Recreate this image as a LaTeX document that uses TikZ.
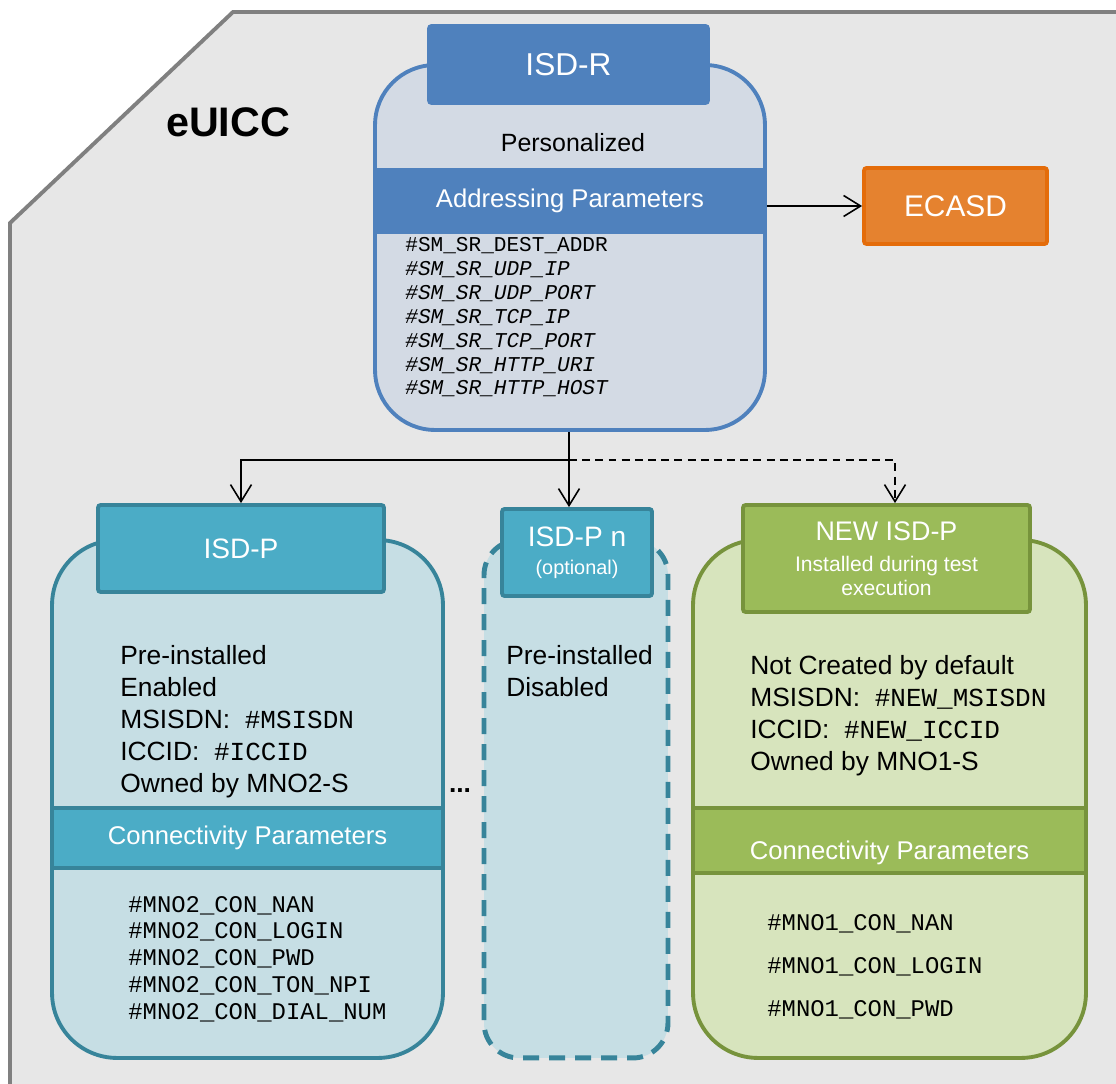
\documentclass[tikz,border=0pt]{standalone}
\usepackage{fontspec}
\setmainfont{Liberation Sans}
\setmonofont{Liberation Mono}
\usetikzlibrary{arrows.meta}

\definecolor{euiccfill}{HTML}{E7E7E7}
\definecolor{euiccline}{HTML}{808080}
\definecolor{rblue}{HTML}{4F81BD}
\definecolor{rfill}{HTML}{D3DAE4}
\definecolor{pteal}{HTML}{4BACC6}
\definecolor{pline}{HTML}{37849A}
\definecolor{pfill}{HTML}{C6DEE4}
\definecolor{ngreen}{HTML}{9BBB59}
\definecolor{nline}{HTML}{77933C}
\definecolor{nfill}{HTML}{D7E4BD}
\definecolor{eorange}{HTML}{E5822F}
\definecolor{eline}{HTML}{E46C0A}

\newcommand{\monotext}[1]{{\fontsize{14.8}{18}\selectfont\ttfamily #1}}

\begin{document}
\begin{tikzpicture}[x=0.02cm, y=-0.02cm,
  bigbox/.style={draw, line width=2.2pt, inner sep=0pt},
  headbox/.style={draw, line width=2.2pt, rounded corners=1.5pt, text=white, align=center, inner sep=0pt},
  band/.style={draw, line width=2.2pt, text=white, inner sep=0pt, font=\fontsize{14.6}{17}\selectfont},
  info/.style={anchor=base west, align=left, inner sep=0pt, font=\fontsize{15}{18.1}\selectfont},
  param/.style={anchor=base west, align=left, inner sep=0pt},
  conn/.style={line width=0.9pt, -{Straight Barb[length=3.4mm, width=4.2mm]}}]
\path[use as bounding box, fill=white] (0,0) rectangle (1116,1084);
% card
\draw[euiccline, fill=euiccfill, line width=2.2pt] (10,1100) -- (10,223) -- (233,12) -- (1130,12) -- (1130,1100) -- cycle;
\node[font=\fontsize{23.5}{28}\selectfont\bfseries] (euicc) at (228,122) {eUICC};

% nodes (text blocks sit on the baseline of their last line)
\node[bigbox, draw=rblue, fill=rfill, rounded corners=1.2cm, minimum width=7.8cm, minimum height=7.3cm] (isdr) at (570,247.5) {};
    \node[band, draw=rblue, fill=rblue, minimum width=7.8cm, minimum height=1.24cm] (addr) at (570,201) {Addressing Parameters};
    \node[headbox, draw=rblue, fill=rblue, minimum width=5.58cm, minimum height=1.54cm, font=\fontsize{18}{20}\selectfont] (isdrhead) at (568.5,64.5) {ISD-R};
    \node[font=\fontsize{14.2}{17}\selectfont] (perso) at (573,143) {Personalized};
    \node[param, font=\fontsize{12}{13.6}\selectfont\ttfamily] (isdrparams) at (405,395) {\#SM\_SR\_DEST\_ADDR\\
      \itshape\#SM\_SR\_UDP\_IP\\\itshape\#SM\_SR\_UDP\_PORT\\\itshape\#SM\_SR\_TCP\_IP\\
      \itshape\#SM\_SR\_TCP\_PORT\\\itshape\#SM\_SR\_HTTP\_URI\\\itshape\#SM\_SR\_HTTP\_HOST};
\node[headbox, draw=eline, fill=eorange, minimum width=3.66cm, minimum height=1.52cm, font=\fontsize{17}{20}\selectfont] (ecasd) at (955.5,206) {ECASD};

\node[bigbox, draw=pline, fill=pfill, rounded corners=1.3cm, minimum width=7.82cm, minimum height=10.36cm] (isdp) at (247.5,799) {};
    \node[band, draw=pline, fill=pteal, minimum width=7.82cm, minimum height=1.2cm] (pconn) at (247.5,838) {Connectivity Parameters};
    \node[headbox, draw=pline, fill=pteal, minimum width=5.72cm, minimum height=1.74cm, font=\fontsize{16}{19}\selectfont] (isdphead) at (241,548.5) {ISD-P};
    \node[info] (pinfo) at (120,792) {Pre-installed\\Enabled\\MSISDN:~~\monotext{\#MSISDN}\\ICCID:~~\monotext{\#ICCID}\\Owned by MNO2-S};
    \node[param, font=\fontsize{13.6}{15.2}\selectfont\ttfamily] (pparams) at (128,1019) {\#MNO2\_CON\_NAN\\\#MNO2\_CON\_LOGIN\\\#MNO2\_CON\_PWD\\\#MNO2\_CON\_TON\_NPI\\\#MNO2\_CON\_DIAL\_NUM};

\node[bigbox, draw=pline, fill=pfill, line width=2.8pt, dash pattern=on 0.32cm off 0.2cm, rounded corners=0.7cm, minimum width=3.68cm, minimum height=10.36cm] (isdpn) at (576,799) {};
    \node[headbox, draw=pline, fill=pteal, minimum width=3cm, minimum height=1.74cm, font=\fontsize{16}{18}\selectfont] (pnhead) at (577,552.5) {ISD-P n\\[-2.2pt]\fontsize{11.3}{18}\selectfont(optional)};
    \node[info] (pninfo) at (506,696) {Pre-installed\\Disabled};
\node[font=\fontsize{15}{18}\selectfont\bfseries] (dots) at (460,791) {...};

\node[bigbox, draw=nline, fill=nfill, rounded corners=1.3cm, minimum width=7.86cm, minimum height=10.36cm] (newp) at (889.5,799) {};
    \node[band, draw=nline, fill=ngreen, minimum width=7.86cm, minimum height=1.3cm] (nconn) at (889.5,840.5) {};
    \node[text=white, font=\fontsize{14.6}{17}\selectfont, yshift=-0.24cm] (nconntext) at (nconn.center) {Connectivity Parameters};
    \node[headbox, draw=nline, fill=ngreen, minimum width=5.74cm, minimum height=2.14cm, font=\fontsize{12}{13.6}\selectfont] (newhead) at (886.5,558.5) {\fontsize{15.3}{18}\selectfont NEW ISD-P\\[3.9pt]Installed during test\\[0pt]execution};
    \node[info] (ninfo) at (750,770) {Not Created by default\\MSISDN:~~\monotext{\#NEW\_MSISDN}\\ICCID:~~\monotext{\#NEW\_ICCID}\\Owned by MNO1-S};
    \node[param, font=\fontsize{13.6}{24.4}\selectfont\ttfamily] (nparams) at (767,1016) {\#MNO1\_CON\_NAN\\\#MNO1\_CON\_LOGIN\\\#MNO1\_CON\_PWD};

% arrows
\coordinate (split) at (569,460);
\draw[conn] (addr.east |- ecasd.west) -- (ecasd.west);
\draw[line width=0.9pt] (isdr.south -| split) -- (split);
\draw[conn] (split) -| (isdphead.north);
\draw[conn] (split) -- (split |- pnhead.north);
\draw[conn, dash pattern=on 4.5pt off 3pt] (split) -| ([xshift=0.17cm]newhead.north);
\end{tikzpicture}
\end{document}
